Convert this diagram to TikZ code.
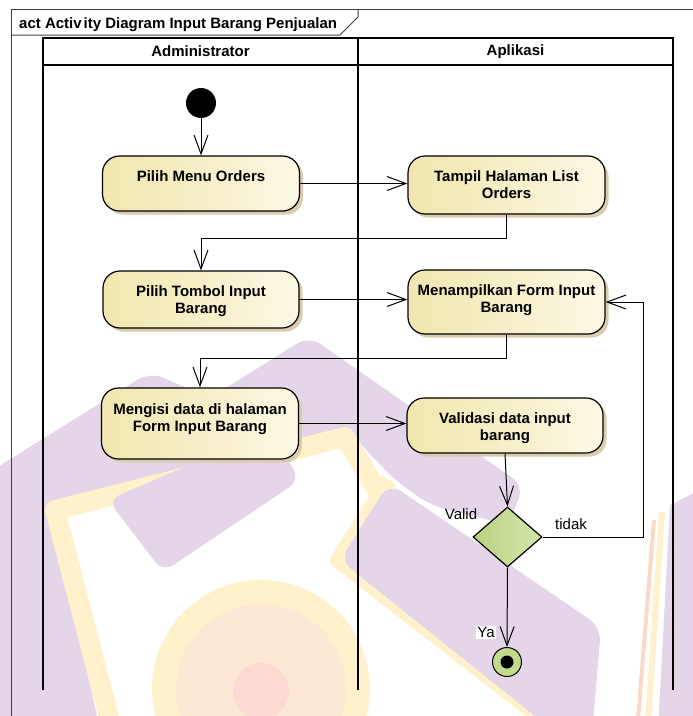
\documentclass[tikz,border=0pt]{standalone}
\usepackage{fontspec}
\setmainfont{Liberation Sans}
\usetikzlibrary{arrows.meta,shapes.geometric,shadows}

% watermark tints
\definecolor{wmlav}{HTML}{E4D5E9}
\definecolor{wmyel}{HTML}{FFF1CB}
\definecolor{wmpeach}{HTML}{FDE8D6}
\definecolor{wmpink}{HTML}{FBDAD2}
\definecolor{wmorange}{HTML}{FBD9C8}
% diagram colours
\definecolor{actleft}{HTML}{F1E6AE}
\definecolor{actright}{HTML}{FCF8E4}
\definecolor{actshadow}{HTML}{D8CBAE}
\definecolor{decleft}{HTML}{B9D281}
\definecolor{decright}{HTML}{D5E5AB}
\definecolor{endfill}{HTML}{C2DA8C}
\definecolor{framecol}{HTML}{404040}

\tikzset{
  boldtext/.style={font=\fontsize{15}{17}\selectfont\bfseries},
  plaintext/.style={font=\fontsize{15}{17}\selectfont},
  actbox/.style={draw=black, line width=1.2pt, rounded corners=17pt,
    left color=actleft, right color=actright,
    general shadow={fill=actshadow, shadow xshift=3.5pt, shadow yshift=-3.5pt},
    minimum width=197pt, inner sep=0pt},
  acttext/.style={boldtext, align=center, inner sep=0pt},
  flow/.style={draw=black, line width=1pt,
    -{Straight Barb[length=19pt,width=14pt,line width=1pt]}},
  lane/.style={draw=black, line width=1.5pt},
}

\begin{document}
\begin{tikzpicture}[x=1pt,y=-1pt]
\useasboundingbox (0,0) rectangle (693,716);

% ---------- background logo watermark ----------
\begin{scope}
\clip (0,0) rectangle (693,716);
\fill[wmlav, rounded corners=14pt] (-20,478) -- (150,372) -- (210,398) -- (309,336)
  -- (524,486) -- (508,525) -- (430,505) -- (395,480) -- (349,432) -- (44,505)
  -- (-20,520) -- cycle;
\fill[wmlav] (-20,500) -- (50,500) -- (100,730) -- (-20,730) -- cycle;
% roof band
\draw[wmyel, line width=20pt, line join=round] (115,740) -- (55,510) -- (345,437) -- (392,515);
% white interior
\fill[white] (128,740) -- (74,530) -- (340,458) -- (378,515) -- (345,565) -- (570,740) -- cycle;
% lower left block
\fill[wmlav, rounded corners=12pt] (108,500) -- (270,430) -- (300,480) -- (163,572) -- cycle;
% round emblem
\fill[wmyel] (261,689) circle[radius=109];
\fill[wmpeach] (261,689) circle[radius=85];
\fill[wmpink] (261,691) circle[radius=28];
% right block with its yellow rim
\draw[wmyel, line width=16pt, line join=round] (389,480) -- (338,560) -- (570,740);
\fill[wmlav, rounded corners=14pt] (389,483) -- (601,627) -- (590,760) -- (340,560) -- cycle;
% far right block
\fill[wmlav] (670,505) -- (720,480) -- (720,730) -- (658,730) -- cycle;
\draw[wmyel, line width=6pt] (662,512) -- (648,720);
\draw[wmorange, line width=4pt] (654,520) -- (638,720);
\end{scope}

% ---------- frame ----------
\draw[framecol, line width=1pt] (11,720) -- (11,9) -- (700,9);
\draw[framecol, line width=1pt] (11,35) -- (340,35) -- (358,17) -- (358,9);
\node[boldtext, anchor=base west, inner sep=0pt] (title) at (19,28.5)
  {act Activ\hspace{2pt}ity Diagram Input Barang Penjualan};

% ---------- swimlanes ----------
\draw[lane] (43,38) rectangle (673,65);
\draw[lane] (43,38) -- (43,690);
\draw[lane] (358,38) -- (358,690);
\draw[lane] (673,38) -- (673,690);
\node[boldtext] (hadmin) at (200.5,51.5) {Administrator};
\node[boldtext] (happ) at (515.5,51.5) {Aplikasi};

% ---------- nodes ----------
\node[circle, fill=black, minimum size=30pt, inner sep=0pt] (start) at (201,103) {};

\node[actbox, minimum height=55pt] (n1) at (201,183.5) {};
\node[acttext] (t1) at (201,176) {Pilih Menu Orders};

\node[actbox, minimum height=58pt] (n2) at (506.5,185) {};
\node[acttext] (t2) at (506.5,184.5) {Tampil Halaman List\\Orders};

\node[actbox, minimum height=57pt, minimum width=196pt] (n3) at (201,299.5) {};
\node[acttext] (t3) at (201,301) {Pilih Tombol Input\\Barang};

\node[actbox, minimum height=64pt] (n4) at (506.5,302) {};
\node[acttext] (t4) at (506.5,300) {Menampilkan Form Input\\Barang};

\node[actbox, minimum height=71pt] (n5) at (200,423.5) {};
\node[acttext] (t5) at (200,419) {Mengisi data di halaman\\Form Input Barang};

\node[actbox, minimum height=55pt, minimum width=196pt] (n6) at (505,425.5) {};
\node[acttext] (t6) at (505,428) {Validasi data input\\barang};

\node[diamond, draw=black, line width=1.2pt, left color=decleft, right color=decright,
  aspect=1.15, minimum width=69pt, minimum height=60pt, inner sep=0pt] (d) at (507.5,537) {};

\node[circle, draw=black, line width=1pt, fill=endfill, minimum size=29pt, inner sep=0pt] (end) at (507,662) {};
\node[circle, fill=black, minimum size=13pt, inner sep=0pt] (enddot) at (end) {};

% ---------- connectors ----------
\draw[flow] (start) -- (n1);
\draw[flow] (n1.east) -- (n1.east -| n2.west);
\draw[flow] (n2.south) -- ++(0,24) -| (n3.north);
\draw[flow] (n3.east) -- (n3.east -| n4.west);
\draw[flow] (n4.south) -- ++(0,24) -| (n5.north);
\draw[flow] (n5.east) -- (n5.east -| n6.west);
\draw[flow] (n6.south) -- (d.north);
\coordinate (loop) at (643,537);
\draw[flow] (d.east) -- (loop) |- (n4.east);
\draw[flow] (d.south) -- (end.north);

% ---------- guard labels ----------
\node[plaintext, inner sep=0pt] (lvalid) at (461,514.5) {Valid};
\node[plaintext, inner sep=0pt] (ltidak) at (571,524.5) {tidak};
\node[plaintext, fill=white, inner sep=1.5pt] (lya) at (486,632.5) {Ya};
\end{tikzpicture}
\end{document}
